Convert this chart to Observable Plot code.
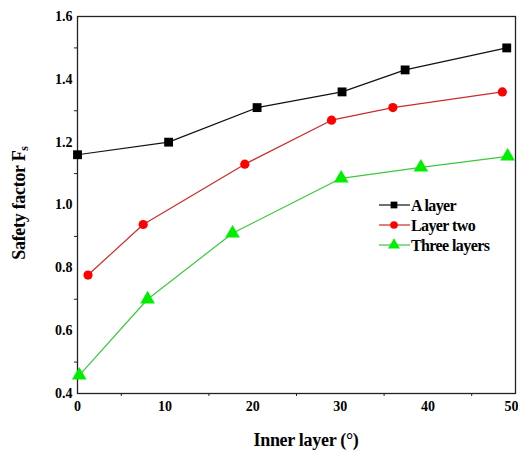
<!DOCTYPE html>
<html>
<head>
<meta charset="utf-8">
<script src="https://cdn.jsdelivr.net/npm/d3@7"></script>
<script src="https://cdn.jsdelivr.net/npm/@observablehq/plot@0.6"></script>
<style>
  html, body { margin: 0; padding: 0; background: #fff; }
  #chart svg { display: block; }
</style>
</head>
<body>
<div id="chart"></div>
<script>
const seriesNames = ["A layer", "Layer two", "Three layers"];
const aLayerX = [0, 10.4, 20.5, 30.2, 37.4, 49.0];
const aLayerY = [1.16, 1.20, 1.31, 1.36, 1.43, 1.50];
const layerTwoX = [1.2, 7.5, 19.1, 29.0, 36.0, 48.5];
const layerTwoY = [0.777, 0.938, 1.13, 1.27, 1.31, 1.36];
const threeX = [0.2, 8.0, 17.7, 30.1, 39.2, 49.1];
const threeY = [0.458, 0.70, 0.91, 1.085, 1.12, 1.155];
const xTicks = [0, 10, 20, 30, 40, 50];
const xMinor = [5, 15, 25, 35, 45];
const yTicks = [0.4, 0.6, 0.8, 1.0, 1.2, 1.4, 1.6];
const yMinor = [0.5, 0.7, 0.9, 1.1, 1.3, 1.5];

const lineColors = ["#111111", "#cc2b2b", "#3cc83c"];
const markColors = ["#000000", "#ff0000", "#00ee00"];
const symbols = ["square", "circle", "triangle"];
const radii = [5.0, 4.6, 5.4];
const legendRadii = [3.8, 3.8, 4.4];

const xs = [aLayerX, layerTwoX, threeX];
const ys = [aLayerY, layerTwoY, threeY];
const data = [];
seriesNames.forEach((s, i) => xs[i].forEach((x, j) => data.push({series: s, idx: i, x, y: ys[i][j]})));

const font = "'Liberation Serif', 'Times New Roman', serif";

const plot = Plot.plot({
  width: 518,
  height: 456,
  marginLeft: 77,
  marginRight: 3,
  marginTop: 16,
  marginBottom: 63,
  style: {fontFamily: font, background: "#fff", overflow: "visible"},
  x: {domain: [0, 50]},
  y: {domain: [0.4, 1.6]},
  marks: [
    Plot.frame({stroke: "#222", strokeWidth: 1.3}),
    Plot.axisX(xTicks, {tickSize: 0, tickPadding: 8, fontSize: 14, fontWeight: "bold", fill: "#000", label: null, letterSpacing: -1}),
    Plot.axisX(xMinor, {tickSize: 3, text: null, stroke: "#222", label: null}),
    Plot.axisY(yTicks, {tickSize: 0, tickPadding: 5, fontSize: 14, fontWeight: "bold", fill: "#000", tickFormat: d3.format(".1f"), label: null}),
    Plot.axisY(yMinor, {tickSize: 3, text: null, stroke: "#222", label: null}),
    ...seriesNames.map((s, i) => Plot.line(data.filter(d => d.idx === i), {x: "x", y: "y", stroke: lineColors[i], strokeWidth: 1.2})),
    ...seriesNames.map((s, i) => Plot.dot(data.filter(d => d.idx === i), {x: "x", y: "y", symbol: symbols[i], r: radii[i], fill: markColors[i], stroke: "none"}))
  ]
});

document.getElementById("chart").appendChild(plot);

const svg = d3.select(plot);
// keep the last x tick label inside the picture
svg.selectAll("[aria-label='x-axis tick label'] text").each(function() {
  if (d3.select(this).text() === "50") d3.select(this).attr("text-anchor", "end").attr("dx", 3);
});

// axis titles
svg.append("text")
  .attr("x", 306).attr("y", 446)
  .attr("text-anchor", "middle")
  .attr("font-family", font).attr("font-weight", "bold").attr("font-size", 18)
  .attr("letter-spacing", -0.3)
  .attr("fill", "#000")
  .text("Inner layer (°)");

const yt = svg.append("text")
  .attr("transform", "translate(25,203) rotate(-90)")
  .attr("text-anchor", "middle")
  .attr("font-family", font).attr("font-weight", "bold").attr("font-size", 18)
  .attr("letter-spacing", -0.3)
  .attr("fill", "#000");
yt.append("tspan").text("Safety factor F");
yt.append("tspan").attr("font-size", 12).attr("dy", 3).text("s");

// legend
const lg = svg.append("g").attr("font-family", font).attr("font-weight", "bold").attr("font-size", 16).attr("text-anchor", "start");
const legendY = [205, 225, 245];
seriesNames.forEach((s, i) => {
  const y = legendY[i];
  lg.append("line").attr("x1", 379).attr("x2", 410).attr("y1", y).attr("y2", y)
    .attr("stroke", lineColors[i]).attr("stroke-width", 1.2);
  lg.append("path")
    .attr("d", d3.symbol(i === 0 ? d3.symbolSquare : i === 1 ? d3.symbolCircle : d3.symbolTriangle, Math.PI * legendRadii[i] * legendRadii[i])())
    .attr("transform", `translate(394,${y})`)
    .attr("fill", markColors[i]);
  lg.append("text").attr("x", 411).attr("y", y).attr("dy", "0.35em").attr("fill", "#000")
    .attr("letter-spacing", -0.6).text(s);
});
</script>
</body>
</html>
